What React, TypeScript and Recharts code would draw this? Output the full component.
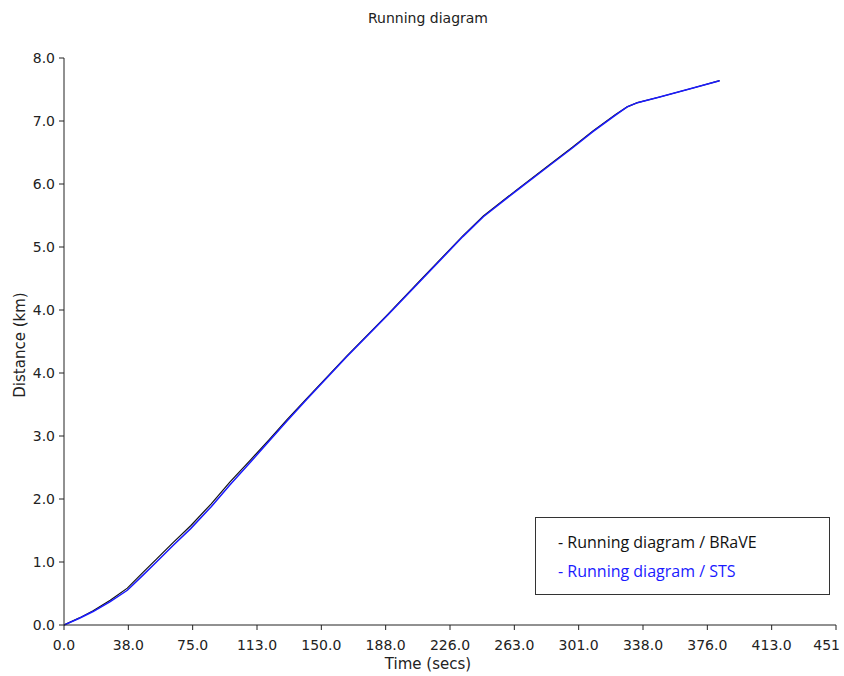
import { LineChart, Line, XAxis, YAxis, Legend } from 'recharts';

const times = [0, 9, 17, 27, 37, 46, 54, 64, 74, 86, 97, 109, 120, 130, 142, 165, 189, 210, 233, 245, 265, 284, 297, 309, 322, 329, 335, 348, 368, 383];
const stsDistance = [0, 0.095, 0.19, 0.33, 0.49, 0.7, 0.89, 1.13, 1.36, 1.67, 1.98, 2.3, 2.6, 2.87, 3.19, 3.78, 4.37, 4.9, 5.48, 5.76, 6.14, 6.49, 6.73, 6.96, 7.19, 7.31, 7.37, 7.45, 7.58, 7.68];
const braveDistance = [0, 0.1, 0.2, 0.35, 0.52, 0.74, 0.93, 1.17, 1.4, 1.71, 2.02, 2.33, 2.62, 2.89, 3.2, 3.79, 4.38, 4.91, 5.49, 5.77, 6.15, 6.5, 6.74, 6.97, 7.2, 7.31, 7.37, 7.45, 7.58, 7.68];

const xTickLabels = ['0.0', '38.0', '75.0', '113.0', '150.0', '188.0', '226.0', '263.0', '301.0', '338.0', '376.0', '413.0', '451'];
const yTickLabels = ['0.0', '1.0', '2.0', '3.0', '4.0', '4.0', '5.0', '6.0', '7.0', '8.0'];
const X_MAX = 451;
const Y_MAX = 8;

const xTicks = xTickLabels.map((_, i) => (i * X_MAX) / (xTickLabels.length - 1));
const yTicks = yTickLabels.map((_, i) => (i * Y_MAX) / (yTickLabels.length - 1));

const data = times.map((t, i) => ({ t, brave: braveDistance[i], sts: stsDistance[i] }));

const FONT = '"DejaVu Sans", sans-serif';

function XTick({ x, y, index }: any) {
  const last = index === xTickLabels.length - 1;
  return (
    <text x={last ? x + 4 : x} y={y} dy="0.71em" textAnchor={last ? 'end' : 'middle'} fontSize={14} fontFamily={FONT} fill="#222">
      {xTickLabels[index]}
    </text>
  );
}

function LegendBox({ payload }: any) {
  return (
    <div style={{ border: '1px solid #333', background: '#fff', width: 295, height: 78, boxSizing: 'border-box', padding: '10px 0 0 22px', fontFamily: '"Open Sans", sans-serif', fontSize: 16, lineHeight: '29px', textAlign: 'left' }}>
      {(payload || []).map((p: any) => (
        <div key={p.value} style={{ color: p.color }}>- {p.value}</div>
      ))}
    </div>
  );
}

export default function App() {
  return (
    <div style={{ position: 'relative', width: 844, height: 676, background: '#fff' }}>
      <style>{'body{margin:0}'}</style>
      <div style={{ position: 'absolute', top: 10, left: 0, width: 856, textAlign: 'center', fontFamily: FONT, fontSize: 14, color: '#222' }}>
        Running diagram
      </div>
      <div style={{ position: 'absolute', left: 20, top: 345, transform: 'translate(-50%, -50%) rotate(-90deg)', whiteSpace: 'nowrap', fontFamily: FONT, fontSize: 15, color: '#222' }}>
        Distance (km)
      </div>
      <div style={{ position: 'absolute', top: 655, left: 0, width: 856, textAlign: 'center', fontFamily: FONT, fontSize: 15, color: '#222' }}>
        Time (secs)
      </div>
      <LineChart width={844} height={676} data={data} margin={{ top: 58, right: 8, bottom: 21, left: 0 }}>
        <XAxis
          dataKey="t"
          type="number"
          domain={[0, X_MAX]}
          ticks={xTicks}
          interval={0}
          height={30}
          tickSize={5}
          tickMargin={10}
          stroke="#222"
          tick={<XTick />}
          allowDataOverflow
        />
        <YAxis
          type="number"
          domain={[0, Y_MAX]}
          ticks={yTicks}
          interval={0}
          width={64}
          tickSize={5}
          tickMargin={4}
          stroke="#222"
          tick={{ fontSize: 14, fontFamily: FONT, fill: '#222' }}
          tickFormatter={(_v: number, i: number) => yTickLabels[i]}
        />
        <Legend
          layout="horizontal"
          verticalAlign="middle"
          align="center"
          content={<LegendBox />}
          wrapperStyle={{ left: 535, top: 517, width: 297, height: 80 }}
        />
        <Line type="linear" dataKey="brave" name="Running diagram / BRaVE" stroke="#111" strokeWidth={1.2} dot={false} isAnimationActive={false} />
        <Line type="linear" dataKey="sts" name="Running diagram / STS" stroke="#1a1aff" strokeWidth={1.5} dot={false} isAnimationActive={false} />
      </LineChart>
    </div>
  );
}
